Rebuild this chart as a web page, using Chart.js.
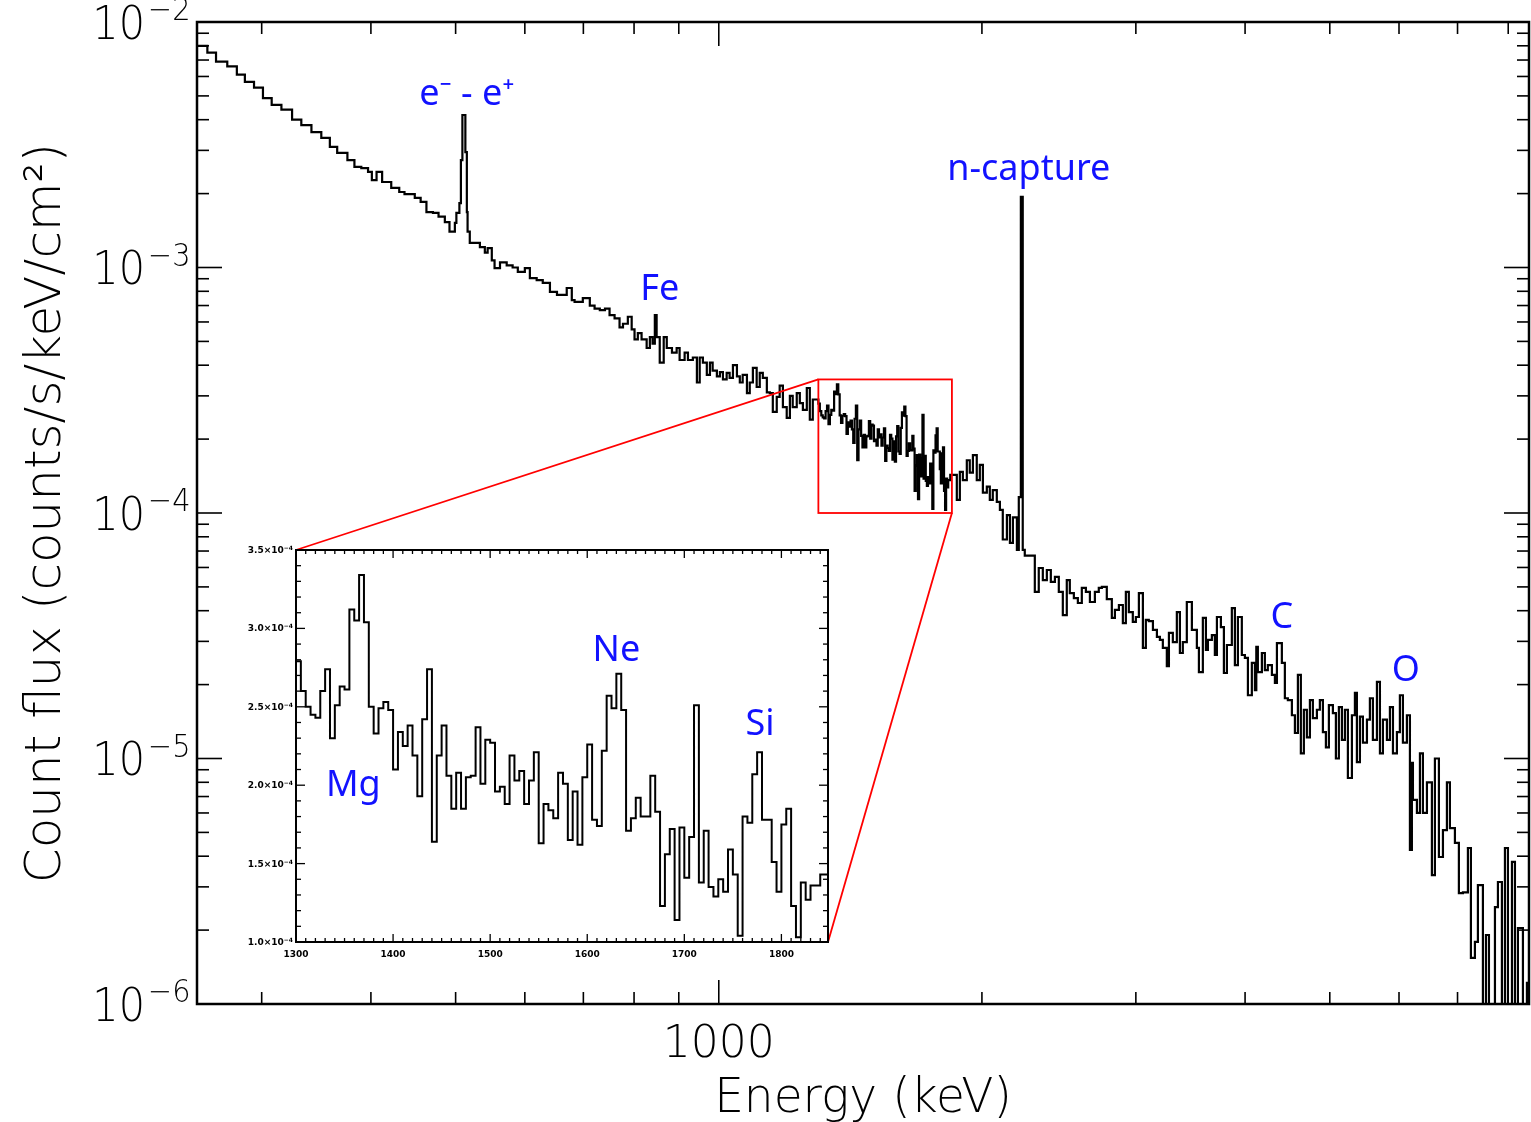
<!DOCTYPE html>
<html>
<head>
<meta charset="utf-8">
<title>Count flux spectrum</title>
<script src="https://cdn.jsdelivr.net/npm/chart.js@4.4.1/dist/chart.umd.min.js"></script>
<style>
    body { margin: 0; background: #fff; }
    #wrap { position: relative; width: 1531px; height: 1122px; }
    canvas { position: absolute; left: 0; top: 0; }
</style>
</head>
<body>
<div id="wrap">
    <canvas id="mainChart" width="1531" height="1122"></canvas>
    <canvas id="insetChart" width="1531" height="1122"></canvas>
</div>
<script>
// spectrum below the zoom window: bin left edges (keV) and count flux
let lowEnergy = [
    253, 260, 266, 274, 281, 287, 294, 301, 308, 316,
    325, 333, 342, 351, 359, 366, 376, 383, 390, 397,
    401, 406, 412, 422, 431, 437, 449, 456, 463, 471,
    478, 486, 492, 499, 501, 505, 507, 509, 513, 515,
    516, 519, 533, 540, 544, 550, 554, 562, 572, 581,
    589, 600, 608, 619, 629, 641, 653, 670, 679, 684,
    699, 712, 721, 731, 741, 750, 760, 770, 777, 787,
    795, 801, 808, 816, 827, 834, 840, 845, 849, 856,
    865, 872, 884, 895, 902, 914, 922, 934, 944, 951,
    959, 969, 977, 984, 995, 1003, 1011, 1021, 1029, 1038,
    1049, 1057, 1065, 1077, 1085, 1094, 1105, 1114, 1123, 1135,
    1144, 1153, 1165, 1174, 1184, 1196, 1206, 1215, 1228, 1238,
    1248, 1261, 1271, 1281
];
let lowFlux = [
    8.0e-3, 7.5e-3, 6.9e-3, 6.6e-3, 6.1e-3, 5.7e-3, 5.4e-3, 4.9e-3, 4.6e-3, 4.4e-3,
    4.0e-3, 3.8e-3, 3.56e-3, 3.37e-3, 3.1e-3, 2.93e-3, 2.74e-3, 2.57e-3, 2.54e-3, 2.45e-3,
    2.27e-3, 2.45e-3, 2.23e-3, 2.11e-3, 2.03e-3, 1.99e-3, 1.92e-3, 1.85e-3, 1.68e-3, 1.67e-3,
    1.61e-3, 1.53e-3, 1.40e-3, 1.52e-3, 1.67e-3, 1.83e-3, 2.74e-3, 4.18e-3, 2.95e-3, 1.68e-3,
    1.40e-3, 1.26e-3, 1.21e-3, 1.15e-3, 1.20e-3, 1.07e-3, 9.95e-4, 1.05e-3, 1.02e-3, 1.0e-3,
    9.59e-4, 9.95e-4, 9.06e-4, 8.89e-4, 8.65e-4, 7.95e-4, 7.73e-4, 8.25e-4, 7.37e-4, 7.24e-4,
    7.5e-4, 7.0e-4, 6.8e-4, 6.7e-4, 6.8e-4, 6.4e-4, 6.2e-4, 5.7e-4, 5.9e-4, 6.3e-4,
    5.6e-4, 5.1e-4, 5.4e-4, 5.1e-4, 4.7e-4, 5.2e-4, 4.9e-4, 6.4e-4, 5.2e-4, 4.1e-4,
    5.2e-4, 4.7e-4, 4.5e-4, 4.7e-4, 4.2e-4, 4.5e-4, 4.2e-4, 4.3e-4, 3.4e-4, 4.3e-4,
    4.1e-4, 3.65e-4, 4.1e-4, 3.8e-4, 3.6e-4, 3.75e-4, 3.5e-4, 3.72e-4, 3.55e-4, 4.0e-4,
    3.6e-4, 3.4e-4, 3.65e-4, 3.08e-4, 3.4e-4, 3.9e-4, 3.26e-4, 3.72e-4, 3.55e-4, 3.1e-4,
    3.08e-4, 2.58e-4, 2.97e-4, 3.3e-4, 2.7e-4, 2.44e-4, 3.0e-4, 2.7e-4, 3.08e-4, 2.8e-4,
    2.63e-4, 3.23e-4, 2.4e-4, 2.9e-4
];

// zoom window: 5 keV bins starting at 1300 keV
let insetStart = 1300;
let insetBinWidth = 5;
let insetEnd = 1848;
let insetFlux = [
    2.79e-4, 2.60e-4, 2.50e-4, 2.45e-4, 2.43e-4, 2.60e-4, 2.74e-4, 2.30e-4, 2.51e-4, 2.63e-4,
    2.61e-4, 3.12e-4, 3.05e-4, 3.34e-4, 3.04e-4, 2.50e-4, 2.33e-4, 2.49e-4, 2.53e-4, 2.48e-4,
    2.10e-4, 2.34e-4, 2.25e-4, 2.38e-4, 2.19e-4, 1.93e-4, 2.42e-4, 2.74e-4, 1.64e-4, 2.19e-4,
    2.38e-4, 2.06e-4, 1.85e-4, 2.08e-4, 1.85e-4, 2.05e-4, 2.06e-4, 2.37e-4, 2.01e-4, 2.29e-4,
    2.27e-4, 1.96e-4, 1.99e-4, 1.88e-4, 2.19e-4, 2.03e-4, 2.09e-4, 1.88e-4, 2.03e-4, 2.21e-4,
    1.63e-4, 1.88e-4, 1.84e-4, 1.79e-4, 2.08e-4, 2.01e-4, 1.65e-4, 1.96e-4, 1.62e-4, 2.05e-4,
    2.26e-4, 1.78e-4, 1.74e-4, 2.22e-4, 2.57e-4, 2.49e-4, 2.71e-4, 2.48e-4, 1.71e-4, 1.79e-4,
    1.92e-4, 1.80e-4, 1.80e-4, 2.06e-4, 1.83e-4, 1.23e-4, 1.56e-4, 1.72e-4, 1.14e-4, 1.73e-4,
    1.41e-4, 1.67e-4, 2.51e-4, 1.38e-4, 1.71e-4, 1.35e-4, 1.29e-4, 1.40e-4, 1.32e-4, 1.59e-4,
    1.43e-4, 1.04e-4, 1.80e-4, 1.76e-4, 2.07e-4, 2.21e-4, 1.78e-4, 1.78e-4, 1.51e-4, 1.32e-4,
    1.75e-4, 1.85e-4, 1.23e-4, 1.03e-4, 1.38e-4, 1.27e-4, 1.36e-4, 1.36e-4, 1.43e-4
];

// spectrum above the zoom window
let highEnergy = [
    1845, 1872, 1887, 1902, 1922, 1937, 1953, 1973, 1989, 2005,
    2026, 2042, 2058, 2080, 2097, 2113, 2136, 2153, 2170, 2193,
    2204, 2216, 2227, 2239, 2299, 2323, 2348, 2373, 2398, 2424,
    2449, 2475, 2501, 2521, 2548, 2575, 2602, 2630, 2658, 2693,
    2721, 2743, 2779, 2816, 2839, 2869, 2899, 2922, 2945, 2976,
    3000, 3024, 3056, 3080, 3104, 3138, 3171, 3196, 3221, 3255,
    3273, 3307, 3342, 3369, 3395, 3431, 3477, 3523, 3542, 3579,
    3608, 3627, 3665, 3694, 3714, 3753, 3783, 3813, 3863, 3894,
    3925, 3966, 3998, 4030, 4072, 4105, 4120, 4137, 4181, 4214,
    4247, 4293, 4327, 4350, 4407, 4442, 4477, 4525, 4561, 4597,
    4633, 4670, 4707, 4745, 4782, 4833, 4871, 4910, 4949, 4988,
    5041, 5081, 5121, 5162, 5203, 5244, 5300, 5342, 5370, 5413,
    5456, 5514, 5557, 5601, 5661, 5706, 5751, 5812, 5858, 5905,
    5967, 6014, 6062, 6126, 6175, 6207, 6224, 6290, 6340, 6390,
    6458, 6543, 6595, 6665, 6736, 6807, 6861, 6952, 7025, 7100,
    7194, 7251, 7328, 7386, 7484, 7544, 7604, 7725, 7786, 7868,
    7931, 7994, 8079, 8143, 8207, 8316, 8404
];
let highFlux = [
    1.43e-4, 1.13e-4, 1.47e-4, 1.36e-4, 1.64e-4, 1.46e-4, 1.72e-4, 1.36e-4, 1.57e-4, 1.21e-4,
    1.28e-4, 1.13e-4, 1.24e-4, 1.11e-4, 1.03e-4, 7.8e-5, 9.8e-5, 7.55e-5, 9.6e-5, 7.07e-5,
    1.16e-4, 1.94e-3, 7.07e-5, 6.7e-5, 4.77e-5, 5.97e-5, 5.33e-5, 5.86e-5, 5.24e-5, 5.49e-5,
    4.77e-5, 3.84e-5, 5.33e-5, 4.72e-5, 4.5e-5, 4.3e-5, 4.95e-5, 4.77e-5, 4.34e-5, 4.77e-5,
    4.95e-5, 5.0e-5, 4.46e-5, 3.74e-5, 4.03e-5, 4.22e-5, 3.56e-5, 4.77e-5, 3.95e-5, 3.6e-5,
    3.77e-5, 4.72e-5, 2.82e-5, 3.67e-5, 3.63e-5, 3.34e-5, 3.13e-5, 3.04e-5, 2.82e-5, 2.38e-5,
    3.25e-5, 2.98e-5, 3.95e-5, 2.69e-5, 2.98e-5, 4.34e-5, 3.34e-5, 2.82e-5, 2.25e-5, 3.74e-5,
    2.77e-5, 3.04e-5, 3.18e-5, 2.64e-5, 3.77e-5, 3.43e-5, 2.23e-5, 2.9e-5, 4.1e-5, 2.4e-5,
    3.77e-5, 2.64e-5, 2.57e-5, 1.81e-5, 2.45e-5, 1.9e-5, 2.85e-5, 2.25e-5, 2.69e-5, 2.29e-5,
    2.4e-5, 2.19e-5, 2.03e-5, 2.95e-5, 2.45e-5, 1.76e-5, 1.73e-5, 1.5e-5, 1.27e-5, 2.19e-5,
    1.05e-5, 1.58e-5, 1.22e-5, 1.73e-5, 1.46e-5, 1.58e-5, 1.73e-5, 1.28e-5, 1.11e-5, 1.65e-5,
    1.53e-5, 1.0e-5, 1.62e-5, 1.19e-5, 1.58e-5, 8.33e-6, 1.5e-5, 1.85e-5, 9.67e-6, 1.48e-5,
    1.16e-5, 1.44e-5, 1.76e-5, 1.19e-5, 2.05e-5, 1.05e-5, 1.44e-5, 1.19e-5, 1.62e-5, 1.05e-5,
    1.28e-5, 1.81e-5, 1.16e-5, 1.5e-5, 4.24e-6, 9.6e-6, 6.78e-6, 6.0e-6, 1.05e-5, 6.0e-6,
    8.0e-6, 3.35e-6, 1.0e-5, 3.97e-6, 5.11e-6, 8.0e-6, 5.2e-6, 4.53e-6, 2.83e-6, 2.85e-6,
    4.32e-6, 1.54e-6, 1.79e-6, 3.05e-6, 5e-7, 1.91e-6, 5e-7, 2.48e-6, 3.14e-6, 5e-7,
    4.32e-6, 5e-7, 3.79e-6, 5e-7, 2.04e-6, 5e-7, 1.22e-6
];

let energyMin = 253, energyMax = 8450;
let fluxMin = 1e-6, fluxMax = 1e-2;
let energyTicks = [300, 400, 500, 600, 700, 800, 900, 1000, 2000, 3000, 4000, 5000, 6000, 7000, 8000];
let energyLabels = [1000];
let decadeTicks = [1e-2, 1e-3, 1e-4, 1e-5, 1e-6];

let insetFluxMin = 1.0e-4, insetFluxMax = 3.5e-4;
let insetEnergyLabels = [1300, 1400, 1500, 1600, 1700, 1800];
let insetFluxLabels = ['1.0', '1.5', '2.0', '2.5', '3.0', '3.5'];

let lineLabels = [
    { text: 'e\u207B - e\u207A', energy: 515, flux: 4.6e-3 },
    { text: 'Fe', energy: 856, flux: 7.4e-4 },
    { text: 'n-capture', energy: 2263, flux: 2.27e-3 },
    { text: 'C', energy: 4407, flux: 3.4e-5 },
    { text: 'O', energy: 6109, flux: 2.07e-5 }
];
let insetLineLabels = [
    { text: 'Mg', energy: 1359, flux: 1.93e-4 },
    { text: 'Ne', energy: 1630, flux: 2.79e-4 },
    { text: 'Si', energy: 1778, flux: 2.32e-4 }
];

let labelBlue = 'rgb(18, 18, 255)';
let axisFont = '"DejaVu Sans", sans-serif';
let mainChart = null;
let insetChart = null;

function drawScaled(ctx, text, x, y, sx) {
    ctx.save();
    ctx.translate(x, y);
    ctx.scale(sx, 1);
    ctx.fillText(text, 0, 0);
    ctx.restore();
}

function tick(ctx, x1, y1, x2, y2) {
    ctx.beginPath();
    ctx.moveTo(x1, y1);
    ctx.lineTo(x2, y2);
    ctx.stroke();
}

function mainSeries() {
    const pts = [];
    lowEnergy.forEach((e, i) => pts.push({ x: e, y: lowFlux[i] }));
    insetFlux.forEach((v, i) => pts.push({ x: insetStart + i * insetBinWidth, y: v }));
    highEnergy.forEach((e, i) => pts.push({ x: e, y: highFlux[i] }));
    pts.push({ x: energyMax, y: highFlux[highFlux.length - 1] });
    return pts;
}

function insetSeries() {
    const pts = insetFlux.map((v, i) => ({ x: insetStart + i * insetBinWidth, y: v }));
    pts.push({ x: insetEnd, y: insetFlux[insetFlux.length - 1] });
    return pts;
}

const mainFrame = {
    id: 'mainFrame',
    afterDatasetsDraw(chart) {
        const { ctx, chartArea: a, scales: { x, y } } = chart;
        ctx.save();

        // zoom box and the two connectors to the inset
        const bx1 = x.getPixelForValue(insetStart), bx2 = x.getPixelForValue(insetEnd);
        const by1 = y.getPixelForValue(insetFluxMax), by2 = y.getPixelForValue(insetFluxMin);
        ctx.strokeStyle = 'rgb(255, 0, 0)';
        ctx.lineWidth = 1.8;
        ctx.strokeRect(bx1, by1, bx2 - bx1, by2 - by1);
        if (insetChart) {
            const ia = insetChart.chartArea;
            tick(ctx, bx1, by1, ia.left, ia.top);
            tick(ctx, bx2, by2, ia.right, ia.bottom);
        }

        // frame and inward ticks
        ctx.strokeStyle = '#000';
        ctx.lineWidth = 2.5;
        ctx.strokeRect(a.left, a.top, a.width, a.height);
        ctx.lineWidth = 1.6;
        energyTicks.forEach(v => {
            const px = x.getPixelForValue(v);
            const len = energyLabels.includes(v) ? 24 : 12;
            tick(ctx, px, a.bottom, px, a.bottom - len);
            tick(ctx, px, a.top, px, a.top + len);
        });
        decadeTicks.forEach(d => {
            const py = y.getPixelForValue(d);
            tick(ctx, a.left, py, a.left + 25, py);
            tick(ctx, a.right, py, a.right - 25, py);
            if (d >= fluxMax) return;
            for (let m = 2; m <= 9; m++) {
                const pm = y.getPixelForValue(d * m);
                tick(ctx, a.left, pm, a.left + 12, pm);
                tick(ctx, a.right, pm, a.right - 12, pm);
            }
        });

        // tick labels
        ctx.fillStyle = '#000';
        decadeTicks.forEach(d => {
            const py = y.getPixelForValue(d) + 5;
            const exp = Math.round(Math.log10(d));
            ctx.font = '200 46px ' + axisFont;
            ctx.textAlign = 'right';
            ctx.textBaseline = 'middle';
            drawScaled(ctx, '10', 145, py, 0.9);
            ctx.font = '200 32px ' + axisFont;
            ctx.textAlign = 'left';
            ctx.textBaseline = 'alphabetic';
            drawScaled(ctx, '\u2212' + Math.abs(exp), 148, py - 7, 0.9);
        });
        ctx.font = '200 44px ' + axisFont;
        ctx.textAlign = 'center';
        ctx.textBaseline = 'alphabetic';
        energyLabels.forEach(v => drawScaled(ctx, String(v), x.getPixelForValue(v), 1057, 1.0));

        // axis titles
        ctx.font = '200 48px ' + axisFont;
        drawScaled(ctx, 'Energy (keV)', (a.left + a.right) / 2, 1112, 0.98);
        ctx.save();
        ctx.translate(60, (a.top + a.bottom) / 2);
        ctx.rotate(-Math.PI / 2);
        ctx.font = '200 50px ' + axisFont;
        drawScaled(ctx, 'Count flux (counts/s/keV/cm\u00B2)', 0, 0, 1.0);
        ctx.restore();

        // line identifications
        ctx.fillStyle = labelBlue;
        ctx.font = '36px "Noto Sans", "Open Sans", sans-serif';
        lineLabels.forEach(l => {
            ctx.fillText(l.text, x.getPixelForValue(l.energy), y.getPixelForValue(l.flux));
        });
        ctx.restore();
    }
};

const insetFrame = {
    id: 'insetFrame',
    afterDatasetsDraw(chart) {
        const { ctx, chartArea: a, scales: { x, y } } = chart;
        ctx.save();
        ctx.strokeStyle = '#000';
        ctx.lineWidth = 2;
        ctx.strokeRect(a.left, a.top, a.width, a.height);
        ctx.lineWidth = 1.3;
        for (let e = insetStart; e <= insetEnd; e += 10) {
            const px = x.getPixelForValue(e);
            const len = e % 100 === 0 ? 8 : 4;
            tick(ctx, px, a.bottom, px, a.bottom - len);
            tick(ctx, px, a.top, px, a.top + len);
        }
        for (let k = 0; k <= 25; k++) {
            const py = y.getPixelForValue(insetFluxMin + k * 1e-5);
            const len = k % 5 === 0 ? 9 : 5;
            tick(ctx, a.left, py, a.left + len, py);
            tick(ctx, a.right, py, a.right - len, py);
        }

        ctx.fillStyle = '#000';
        ctx.font = 'bold 9px ' + axisFont;
        ctx.textAlign = 'center';
        ctx.textBaseline = 'alphabetic';
        insetEnergyLabels.forEach(v => ctx.fillText(String(v), x.getPixelForValue(v), a.bottom + 15));
        insetFluxLabels.forEach((m, i) => {
            const py = y.getPixelForValue(insetFluxMin + i * 5e-5);
            ctx.font = 'bold 6px ' + axisFont;
            const supW = ctx.measureText('\u22124').width;
            ctx.textAlign = 'left';
            ctx.fillText('\u22124', a.left - 3 - supW, py);
            ctx.font = 'bold 9px ' + axisFont;
            ctx.textAlign = 'right';
            ctx.fillText(m + '\u00D710', a.left - 3 - supW, py + 3);
        });

        ctx.fillStyle = labelBlue;
        ctx.font = '36px "Noto Sans", "Open Sans", sans-serif';
        ctx.textAlign = 'center';
        insetLineLabels.forEach(l => {
            ctx.fillText(l.text, x.getPixelForValue(l.energy), y.getPixelForValue(l.flux));
        });
        ctx.restore();
    }
};

window.onload = function() {
    insetChart = new Chart(document.getElementById('insetChart').getContext('2d'), {
        type: 'line',
        data: {
            datasets: [{
                data: insetSeries(),
                stepped: true,
                borderColor: '#000',
                borderWidth: 2,
                pointRadius: 0,
                fill: false
            }]
        },
        options: {
            responsive: false,
            animation: false,
            events: [],
            layout: { padding: { left: 296, right: 703, top: 550, bottom: 180 } },
            plugins: { legend: { display: false }, tooltip: { enabled: false } },
            scales: {
                x: { type: 'linear', min: insetStart, max: insetEnd, display: false },
                y: { type: 'linear', min: insetFluxMin, max: insetFluxMax, display: false }
            }
        },
        plugins: [insetFrame]
    });

    mainChart = new Chart(document.getElementById('mainChart').getContext('2d'), {
        type: 'line',
        data: {
            datasets: [{
                data: mainSeries(),
                stepped: true,
                borderColor: '#000',
                borderWidth: 2.2,
                pointRadius: 0,
                fill: false
            }]
        },
        options: {
            responsive: false,
            animation: false,
            events: [],
            layout: { padding: { left: 197, right: 2, top: 22, bottom: 118 } },
            plugins: { legend: { display: false }, tooltip: { enabled: false } },
            scales: {
                x: { type: 'logarithmic', min: energyMin, max: energyMax, display: false },
                y: { type: 'logarithmic', min: fluxMin, max: fluxMax, display: false }
            }
        },
        plugins: [mainFrame]
    });
};
</script>
</body>
</html>
